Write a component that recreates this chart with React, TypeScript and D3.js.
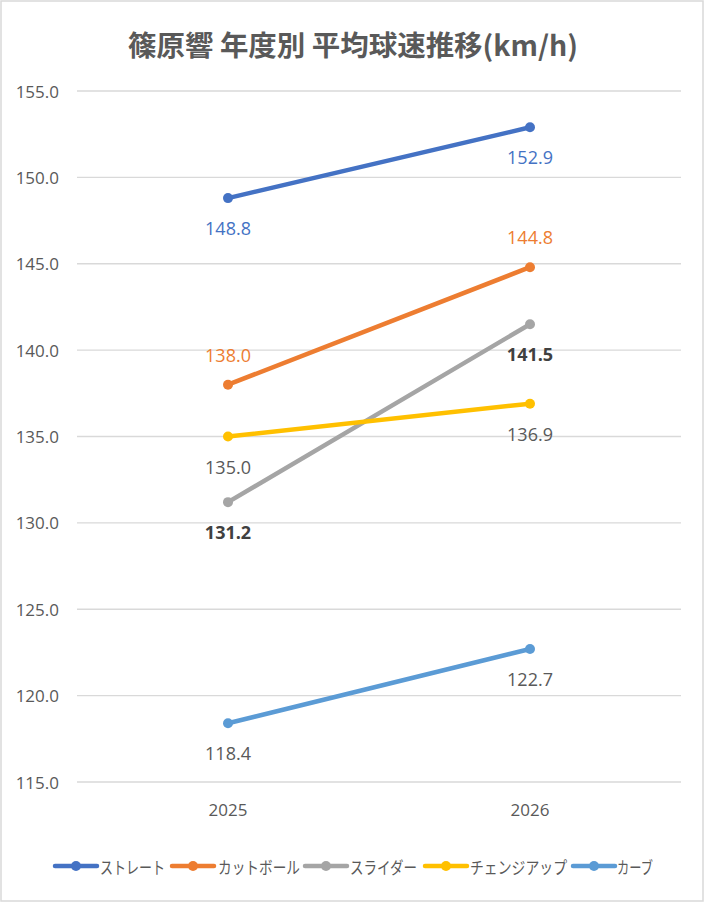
import React from "react";
import * as d3 from "d3";

const years = ["2025", "2026"];
const seriesNames = ["ストレート", "カットボール", "スライダー", "チェンジアップ", "カーブ"];
const straight = [148.8, 152.9];
const cutball = [138.0, 144.8];
const slider = [131.2, 141.5];
const changeup = [135.0, 136.9];
const curve = [118.4, 122.7];
const yTicks = [115, 120, 125, 130, 135, 140, 145, 150, 155];
const colors = ["#4472C4", "#ED7D31", "#A5A5A5", "#FFC000", "#5B9BD5"];
const labelColors = ["#4472C4", "#ED7D31", "#404040", "#595959", "#595959"];
const labelPos: string[][] = [
  ["below", "below"],
  ["above", "above"],
  ["below", "below"],
  ["below", "below"],
  ["below", "below"],
];
const allSeries = [straight, cutball, slider, changeup, curve];

const W = 705;
const H = 903;
const JP = "'Noto Sans CJK JP', 'Noto Sans', sans-serif";
const NUM = "'Open Sans', 'Noto Sans', sans-serif";

export default function App() {
  const x = d3.scaleBand<string>().domain(years).range([77, 681]);
  const y = d3.scaleLinear().domain([115, 155]).range([782, 91]);
  const line = d3
    .line<number>()
    .x((_, i) => (x(years[i]) as number) + x.bandwidth() / 2)
    .y((d) => y(d));

  const legendItems = [
    { lx: 55, tx: 100, tw: 65 },
    { lx: 172, tx: 218, tw: 82 },
    { lx: 305, tx: 350, tw: 67 },
    { lx: 425, tx: 470, tw: 97 },
    { lx: 573, tx: 617, tw: 36 },
  ];

  return (
    <svg
      width={W}
      height={H}
      style={{ position: "absolute", left: 0, top: 0, background: "#fff" }}
    >
      <rect x={1} y={1} width={W - 3} height={H - 3} fill="#fff" stroke="#D9D9D9" strokeWidth={1.5} />
      <text
        x={353}
        y={44}
        textAnchor="middle"
        dominantBaseline="central"
        fontSize={28}
        fontWeight={700}
        fill="#595959"
        fontFamily={JP}
        textLength={450}
        lengthAdjust="spacingAndGlyphs"
      >
        篠原響 年度別 平均球速推移(km/h)
      </text>
      {yTicks.map((t) => (
        <g key={t}>
          <line x1={77} x2={681} y1={y(t)} y2={y(t)} stroke="#D9D9D9" strokeWidth={1.3} />
          <text
            x={59}
            y={y(t)}
            textAnchor="end"
            dominantBaseline="central"
            fontSize={17}
            fill="#595959"
            fontFamily={NUM}
          >
            {t.toFixed(1)}
          </text>
        </g>
      ))}
      {years.map((yr) => (
        <text
          key={yr}
          x={(x(yr) as number) + x.bandwidth() / 2}
          y={809}
          textAnchor="middle"
          dominantBaseline="central"
          fontSize={17}
          fill="#595959"
          fontFamily={NUM}
        >
          {yr}
        </text>
      ))}
      {allSeries.map((s, si) => (
        <g key={si}>
          <path d={line(s) || ""} fill="none" stroke={colors[si]} strokeWidth={4.5} strokeLinecap="round" />
          {s.map((v, i) => (
            <circle
              key={i}
              cx={(x(years[i]) as number) + x.bandwidth() / 2}
              cy={y(v)}
              r={5}
              fill={colors[si]}
            />
          ))}
        </g>
      ))}
      {allSeries.map((s, si) =>
        s.map((v, i) => (
          <text
            key={`${si}-${i}`}
            x={(x(years[i]) as number) + x.bandwidth() / 2}
            y={y(v) + (labelPos[si][i] === "above" ? -30 : 30)}
            textAnchor="middle"
            dominantBaseline="central"
            fontSize={18}
            fontWeight={si === 2 ? 700 : 400}
            fill={labelColors[si]}
            fontFamily={NUM}
          >
            {v.toFixed(1)}
          </text>
        ))
      )}
      {seriesNames.map((n, i) => (
        <g key={n}>
          <line
            x1={legendItems[i].lx}
            x2={legendItems[i].lx + 42}
            y1={866}
            y2={866}
            stroke={colors[i]}
            strokeWidth={4.5}
            strokeLinecap="round"
          />
          <circle cx={legendItems[i].lx + 21} cy={866} r={5} fill={colors[i]} />
          <text
            x={legendItems[i].tx}
            y={866}
            dominantBaseline="central"
            fontSize={17}
            fill="#595959"
            fontFamily={JP}
            textLength={legendItems[i].tw}
            lengthAdjust="spacingAndGlyphs"
          >
            {n}
          </text>
        </g>
      ))}
    </svg>
  );
}
